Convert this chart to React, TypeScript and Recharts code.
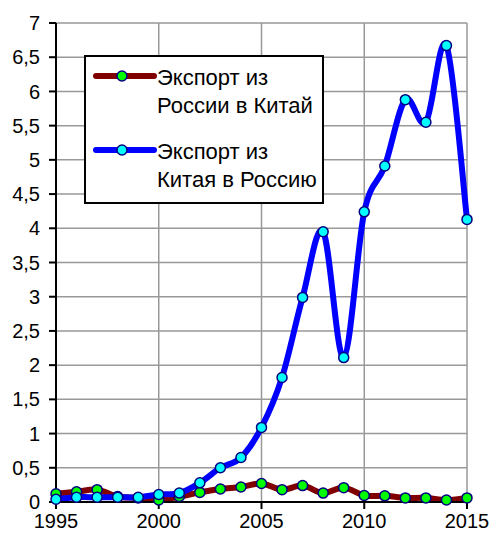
import React from 'react';
import { LineChart, Line, XAxis, YAxis, CartesianGrid, Legend } from 'recharts';

const years = [1995, 1996, 1997, 1998, 1999, 2000, 2001, 2002, 2003, 2004, 2005, 2006, 2007, 2008, 2009, 2010, 2011, 2012, 2013, 2014, 2015];
const russiaToChina = [0.12, 0.15, 0.18, 0.08, 0.06, 0.03, 0.08, 0.14, 0.19, 0.22, 0.27, 0.18, 0.24, 0.13, 0.21, 0.095, 0.09, 0.06, 0.06, 0.03, 0.06];
const chinaToRussia = [0.04, 0.07, 0.07, 0.07, 0.07, 0.11, 0.13, 0.28, 0.5, 0.65, 1.09, 1.82, 2.99, 3.95, 2.11, 4.24, 4.91, 5.88, 5.55, 6.67, 4.13];
const xTicks = [1995, 2000, 2005, 2010, 2015];
const yTicks = [0, 0.5, 1, 1.5, 2, 2.5, 3, 3.5, 4, 4.5, 5, 5.5, 6, 6.5, 7];
const legendLines = [
  ['Экспорт из', 'России в Китай'],
  ['Экспорт из', 'Китая в Россию'],
];

const data = years.map((year, i) => ({ year, ru: russiaToChina[i], cn: chinaToRussia[i] }));

const FONT = '"Liberation Sans", Arial, sans-serif';
const RED = '#800000';
const BLUE = '#0000ff';
const DOT_STROKE = '#000080';

// smoothed line like a spreadsheet one (catmull-rom through the points)
const smoothCurve = (context: any) => {
  let pts: [number, number][] = [];
  return {
    areaStart() {},
    areaEnd() {},
    lineStart() {
      pts = [];
    },
    lineEnd() {
      if (!pts.length) return;
      context.moveTo(pts[0][0], pts[0][1]);
      for (let i = 0; i < pts.length - 1; i++) {
        const p0 = pts[Math.max(i - 1, 0)];
        const p1 = pts[i];
        const p2 = pts[i + 1];
        const p3 = pts[Math.min(i + 2, pts.length - 1)];
        context.bezierCurveTo(
          p1[0] + (p2[0] - p0[0]) / 6,
          p1[1] + (p2[1] - p0[1]) / 6,
          p2[0] - (p3[0] - p1[0]) / 6,
          p2[1] - (p3[1] - p1[1]) / 6,
          p2[0],
          p2[1]
        );
      }
    },
    point(x: number, y: number) {
      pts.push([x, y]);
    },
  };
};

const LegendBox = () => {
  const items = [
    { stroke: RED, fill: '#00ff00', top: 9 },
    { stroke: BLUE, fill: '#00ffff', top: 83 },
  ];
  return (
    <div style={{ position: 'relative', width: '100%', height: '100%' }}>
      {items.map((it, idx) => (
        <div key={idx}>
          <svg width={64} height={14} style={{ position: 'absolute', left: 7, top: it.top + 3 }}>
            <line x1={3} y1={7} x2={61} y2={7} stroke={it.stroke} strokeWidth={6} strokeLinecap="round" />
            <circle cx={29} cy={7} r={5} fill={it.fill} stroke={DOT_STROKE} strokeWidth={1.5} />
          </svg>
          <div
            style={{
              position: 'absolute',
              left: 71,
              top: it.top - 2,
              fontFamily: FONT,
              fontSize: 22,
              lineHeight: '27.5px',
              color: '#000',
              whiteSpace: 'nowrap',
            }}
          >
            {legendLines[idx].map((t) => (
              <div key={t}>{t}</div>
            ))}
          </div>
        </div>
      ))}
    </div>
  );
};

export default function App() {
  const tickStyle = { fill: '#000', fontSize: 20, fontFamily: FONT };
  return (
    <div style={{ position: 'absolute', left: 0, top: 0, background: '#fff' }}>
      <LineChart width={493} height={536} data={data} margin={{ top: 23, right: 26, bottom: 0, left: 0 }}>
        <CartesianGrid stroke="#999" strokeWidth={1.5} verticalPoints={undefined} />
        <XAxis
          dataKey="year"
          type="number"
          domain={[1995, 2015]}
          ticks={xTicks}
          height={34}
          tickSize={7}
          tickMargin={5}
          tick={tickStyle}
          axisLine={{ stroke: '#000', strokeWidth: 2 }}
          tickLine={{ stroke: '#000', strokeWidth: 2 }}
          interval={0}
        />
        <YAxis
          type="number"
          domain={[0, 7]}
          ticks={yTicks}
          width={56}
          tickSize={7}
          tickMargin={9}
          tick={tickStyle}
          tickFormatter={(v: number) => String(v).replace('.', ',')}
          axisLine={{ stroke: '#000', strokeWidth: 2 }}
          tickLine={{ stroke: '#000', strokeWidth: 2 }}
          interval={0}
        />
        <Legend
          layout="horizontal"
          verticalAlign="middle"
          align="center"
          content={() => <LegendBox />}
          wrapperStyle={{
            left: 84,
            top: 55,
            width: 240,
            height: 149,
            boxSizing: 'border-box',
            border: '2px solid #000',
            background: '#fff',
          }}
        />
        <Line
          dataKey="ru"
          name="Экспорт из России в Китай"
          type={smoothCurve as any}
          stroke={RED}
          strokeWidth={6}
          dot={{ r: 5, fill: '#00ff00', stroke: DOT_STROKE, strokeWidth: 1.5 }}
          activeDot={false}
          isAnimationActive={false}
        />
        <Line
          dataKey="cn"
          name="Экспорт из Китая в Россию"
          type={smoothCurve as any}
          stroke={BLUE}
          strokeWidth={6}
          dot={{ r: 5, fill: '#00ffff', stroke: DOT_STROKE, strokeWidth: 1.5 }}
          activeDot={false}
          isAnimationActive={false}
        />
      </LineChart>
    </div>
  );
}
